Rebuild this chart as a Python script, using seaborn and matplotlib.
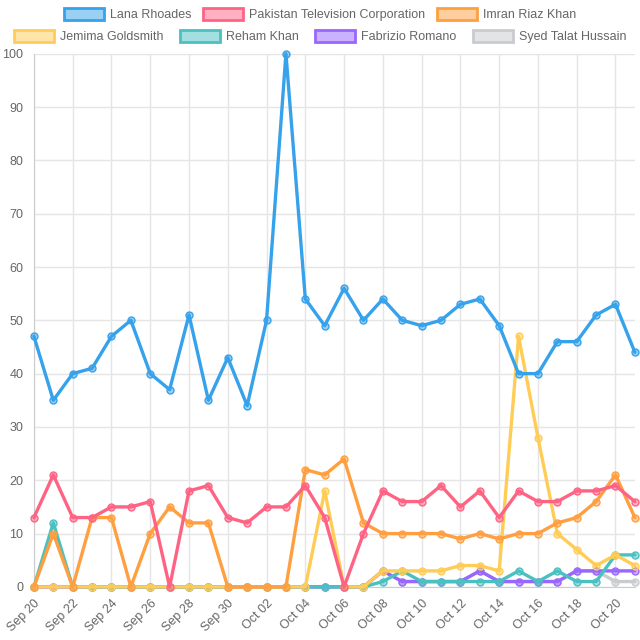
import numpy as np
import pandas as pd
import matplotlib
matplotlib.use("Agg")
import matplotlib.pyplot as plt
from matplotlib.patches import Patch
from matplotlib.colors import to_rgba
import seaborn as sns

dates = pd.date_range("2023-09-20", "2023-10-21", freq="D")

lana_rhoades = [47, 35, 40, 41, 47, 50, 40, 37, 51, 35, 43, 34, 50, 100, 54, 49,
                56, 50, 54, 50, 49, 50, 53, 54, 49, 40, 40, 46, 46, 51, 53, 44]
ptv = [13, 21, 13, 13, 15, 15, 16, 0, 18, 19, 13, 12, 15, 15, 19, 13,
       0, 10, 18, 16, 16, 19, 15, 18, 13, 18, 16, 16, 18, 18, 19, 16]
imran_riaz_khan = [0, 10, 0, 13, 13, 0, 10, 15, 12, 12, 0, 0, 0, 0, 22, 21,
                   24, 12, 10, 10, 10, 10, 9, 10, 9, 10, 10, 12, 13, 16, 21, 13]
jemima_goldsmith = [0, 0, 0, 0, 0, 0, 0, 0, 0, 0, 0, 0, 0, 0, 0, 18,
                    0, 0, 3, 3, 3, 3, 4, 4, 3, 47, 28, 10, 7, 4, 6, 4]
reham_khan = [0, 12, 0, 0, 0, 0, 0, 0, 0, 0, 0, 0, 0, 0, 0, 0,
              0, 0, 1, 3, 1, 1, 1, 1, 1, 3, 1, 3, 1, 1, 6, 6]
fabrizio_romano = [0, 0, 0, 0, 0, 0, 0, 0, 0, 0, 0, 0, 0, 0, 0, 0,
                   0, 0, 3, 1, 1, 1, 1, 3, 1, 1, 1, 1, 3, 3, 3, 3]
syed_talat_hussain = [0, 0, 0, 0, 0, 0, 0, 0, 0, 0, 0, 0, 0, 0, 0, 0,
                      0, 0, 3, 1, 1, 1, 1, 3, 1, 1, 1, 1, 3, 3, 1, 1]

names = ["Lana Rhoades", "Pakistan Television Corporation", "Imran Riaz Khan",
         "Jemima Goldsmith", "Reham Khan", "Fabrizio Romano", "Syed Talat Hussain"]
series = [lana_rhoades, ptv, imran_riaz_khan, jemima_goldsmith,
          reham_khan, fabrizio_romano, syed_talat_hussain]
colors = ["#36A2EB", "#FF6384", "#FF9F40", "#FFCD56", "#4BC0C0", "#9966FF", "#C9CBCF"]

df = pd.concat([pd.DataFrame({"date": dates, "value": v, "name": n})
                for n, v in zip(names, series)], ignore_index=True)

sns.set_style("white")
plt.rcParams["font.family"] = ["Liberation Sans", "DejaVu Sans"]
text_color = "#666666"
grid_color = "#e5e5e5"

fig = plt.figure(figsize=(6.4, 6.4), dpi=100)
ax = fig.add_axes([0.053, 0.083, 0.939, 0.833])

# first dataset ends up on top, like the original
for i in reversed(range(len(names))):
    sub = df[df["name"] == names[i]]
    sns.lineplot(data=sub, x="date", y="value", ax=ax, color=colors[i],
                 linewidth=2.4, marker="o", markersize=5,
                 markerfacecolor=to_rgba(colors[i], 0.5),
                 markeredgecolor=colors[i], markeredgewidth=1.0,
                 zorder=10 - i, legend=False)

ax.set_xlim(dates[0], dates[-1])
ax.set_ylim(0, 100)
ax.set_yticks(np.arange(0, 101, 10))
ax.set_xticks(dates[::2])
ax.set_xticklabels([d.strftime("%b %d") for d in dates[::2]],
                   rotation=45, ha="right", rotation_mode="anchor")
ax.tick_params(axis="both", colors=grid_color, labelcolor=text_color,
               labelsize=9, length=6, width=1, pad=1.5)
ax.set_xlabel("")
ax.set_ylabel("")
ax.grid(True, color=grid_color, linewidth=1)
for s in ["top", "right"]:
    ax.spines[s].set_visible(False)
ax.spines["left"].set_color("#cccccc")
ax.spines["bottom"].set_color("#cccccc")
for ln in ax.lines:
    ln.set_clip_on(False)

def make_handles(idx):
    return [Patch(facecolor=to_rgba(colors[i], 0.5), edgecolor=colors[i],
                  linewidth=2, label=names[i]) for i in idx]

# two centred legend rows, like the chart.js legend
for idx, ypos, gap in [([0, 1, 2], 0.977, 0.9), ([3, 4, 5, 6], 0.943, 1.3)]:
    fig.legend(handles=make_handles(idx), loc="center", ncol=len(idx),
               bbox_to_anchor=(0.5, ypos), frameon=False, fontsize=9,
               handlelength=3.2, handleheight=1.1, handletextpad=0.5,
               columnspacing=gap, labelcolor=text_color)

fig.savefig("out.png", dpi=100)
